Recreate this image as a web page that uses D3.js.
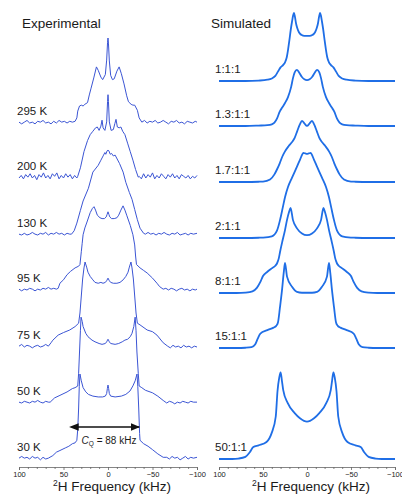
<!DOCTYPE html>
<html>
<head>
<meta charset="utf-8">
<script src="https://cdn.jsdelivr.net/npm/d3@7"></script>
<style>
  body { margin: 0; background: #fff; }
  text { font-family: "Liberation Sans", Arial, sans-serif; }
</style>
</head>
<body>
<svg id="chart" width="402" height="494"></svg>
<script>

// tick labels (kHz) and minor ticks
const freqTicks = [100, 50, 0, -50, -100];
const minorTicks = [90, 80, 70, 60, 40, 30, 20, 10, -10, -20, -30, -40, -60, -70, -80, -90];

const expLabels = ["295 K", "200 K", "130 K", "95 K", "75 K", "50 K", "30 K"];
const simLabels = ["1:1:1", "1.3:1:1", "1.7:1:1", "2:1:1", "8:1:1", "15:1:1", "50:1:1"];

// quadrupolar coupling arrow ends (kHz) and its label value
const cqArrow = [34, -35];
const cqValue = 88;

// experimental spectra: [frequency kHz, intensity (max ~100)]
const exp295 = [[100,1],[97,-1],[94,1],[91,3],[88,0],[85,1],[82,-1],[79,2],[76,1],[73,3],[70,0],[67,1],[64,-1],[61,2],[58,0],[55,3],[52,1],[49,2],[46,0],[43,2],[40,1],[37,2],
  [35,6],[34,14],[32,20],[30,21],[28,20],[26,22],[23,24],[21,33],[19,41],[16,53],[13,66],[11,62],[8,54],[6,51],[3,57],[1.5,74],[0.5,95],[0,100],
  [-0.5,94],[-1.5,73],[-3,56],[-5,51],[-7,52],[-10,61],[-12.5,66],[-15,58],[-18,46],[-21,32],[-23,25],[-26,22],[-28,21],[-30,21],[-33,15],[-35,6],
  [-38,1],[-41,3],[-44,0],[-47,2],[-50,1],[-53,3],[-56,0],[-59,1],[-62,3],[-65,1],[-68,-1],[-71,2],[-74,1],[-77,3],[-80,0],[-83,1],[-86,-1],[-89,2],[-92,1],[-95,0],[-98,2],[-100,1]];

const exp200 = [[100,0],[97.5,3],[95,-1],[92.5,4],[90,1],[87.5,5],[85,0],[82.5,3],[80,-2],[77.5,4],[75,1],[72.5,6],[70,0],[67.5,3],[65,-1],[62.5,5],[60,2],[57.5,6],[55,-1],[52.5,3],[50,0],[47.5,5],[45,1],[42.5,4],[40,-1],[37.5,3],[35,0],
  [34,2],[31,12],[27,31],[23,44],[20,51],[17,55],[14,59],[12,60],[10,56],[8,61],[6.7,68],[5.5,59],[3.5,56],[1.5,66],[0.5,90],[0,98],
  [-0.5,90],[-1.5,66],[-3.5,56],[-6,57],[-7.7,64],[-9,69],[-10.5,60],[-12.5,59],[-14.5,60],[-16.5,55],[-19,51],[-22,41],[-25,31],[-28,21],[-31,10],[-34,1],
  [-35,2],[-37.5,-1],[-40,5],[-42.5,0],[-45,4],[-47.5,1],[-50,6],[-52.5,-1],[-55,3],[-57.5,0],[-60,5],[-62.5,2],[-65,-1],[-67.5,4],[-70,1],[-72.5,5],[-75,0],[-77.5,3],[-80,-1],[-82.5,4],[-85,2],[-87.5,0],[-90,3],[-92.5,-1],[-95,2],[-97.5,0],[-100,3]];

const exp130 = [[100,1],[97,0],[94,2],[91,0],[88,1],[85,3],[82,1],[79,0],[76,2],[73,1],[70,3],[67,0],[64,2],[61,1],[58,3],[55,1],[52,2],[49,0],[46,2],[43,1],
  [41,1],[38,5],[35,14],[31,29],[28,40],[22,55],[17,74],[11,82],[8,88],[5,94],[3.5,97],[2.5,95],[1,99],[0,100],
  [-1,99],[-2.5,95],[-4,96],[-6,93],[-8,94],[-13,84],[-17,74],[-20,62],[-24,50],[-27,42],[-30,30],[-33,18],[-36,8],[-40,2],
  [-42,1],[-45,3],[-48,1],[-51,2],[-54,0],[-57,2],[-60,1],[-63,3],[-66,1],[-69,0],[-72,2],[-75,1],[-78,3],[-81,0],[-84,1],[-87,2],[-90,0],[-93,2],[-96,1],[-100,2]];

const exp95 = [[100,1],[97,-1],[94,1],[91,0],[88,2],[85,1],[82,-1],[79,1],[76,0],[73,2],[70,1],[67,3],[64,1],[61,2],[58,1],
  [56,2],[54,8],[50,12],[46,18],[42,22],[37,26],[33,28],[31.5,30],[30,45],[29,55],[28,65],[26,73],[23.6,80],[20,91],[17.5,96],[15.7,98],[14,94],[12,88],[9,85],[6.7,84],[4,84],[2,86],[1,89],[0,92],
  [-1,89],[-2,86],[-4,84],[-7,84],[-10,85],[-12,88],[-14.5,94],[-16.9,99],[-19,94],[-21,88],[-25,76],[-28,65],[-30,53],[-31,40],[-32,30],[-36,26],[-40,23],[-44,20],[-50,14],[-55,8],[-58,4],
  [-62,1],[-65,2],[-68,0],[-71,2],[-74,1],[-77,-1],[-80,1],[-83,2],[-86,0],[-89,1],[-92,-1],[-95,1],[-98,0],[-100,1]];

const exp75 = [[100,1],[97,3],[94,0],[91,2],[88,1],[85,-1],[82,1],[79,2],[76,0],[73,1],[70,3],[67,1],
  [64,5],[62,8],[56,14],[50,17],[43,20],[37,24],[33,28],[31.5,40],[30,60],[28.5,80],[27,93],[25.8,100],[24,94],[22.5,88],[20,83],[17,79],[14.6,76],[11,75],[8,76],[5.6,75],[3,76],[1.5,78],[0.5,80],[0,81],
  [-0.5,80],[-1.5,78],[-3,76],[-6,75],[-10,75],[-13.5,76],[-17,79],[-20,83],[-22.5,88],[-24,94],[-25.8,100],[-27,93],[-28.5,80],[-30,60],[-31.5,40],[-33,28],[-36,26],[-44,20],[-50,18],[-55,14],[-62,5],
  [-67,1],[-70,-1],[-73,2],[-76,0],[-79,1],[-82,-1],[-85,2],[-88,0],[-91,1],[-94,-1],[-97,1],[-100,0]];

const exp50 = [[100,1],[97,0],[94,2],[91,1],[88,0],[85,2],[82,1],[79,3],[76,1],[73,0],[70,2],[67,1],
  [65,1],[60,6],[54,9],[46,13],[40,17],[37,18],[34,20],[33,35],[32,60],[31,85],[30.3,101],[29,96],[28,90],[25,82],[22.5,78],[18,74],[14.6,72],[10,70],[6.7,69],[3,70],[1.5,72],[0.5,74],[0,75],
  [-0.5,74],[-1.5,72],[-3,70],[-8,69],[-12,70],[-16,72],[-19,74],[-22,75],[-25,78],[-27,82],[-29,90],[-30.5,101],[-31.5,85],[-32.5,60],[-34,35],[-35,20],[-38,18],[-42,15],[-50,12],[-56,8],[-62,3],
  [-66,0],[-69,2],[-72,1],[-75,-1],[-78,1],[-81,0],[-84,2],[-87,1],[-90,0],[-93,2],[-96,1],[-100,1]];

const exp30 = [[100,1],[97,3],[94,1],[91,2],[88,0],[85,3],[82,1],[79,2],[76,-1],[73,2],[70,0],
  [67,1],[62,4],[58,8],[54,10],[48,13],[44,15],[40,18],[37,19],[35,22],[34,35],[33,60],[32.3,85],[31.5,100],[30,92],[28,84],[25,79],[22,76],[17,74],[11,73],[6,73],[3,74],[1.5,77],[0.7,83],[0,87],
  [-0.7,83],[-1.5,77],[-3,74],[-8,73],[-15,74],[-20,76],[-24.7,80],[-28,86],[-30.5,92],[-32.6,100],[-33.5,85],[-34.5,60],[-35.5,30],[-36,22],[-40,18],[-45,15],[-50,11],[-56,6],[-62,2],
  [-66,2],[-69,0],[-72,3],[-75,1],[-78,2],[-81,-1],[-84,1],[-87,3],[-90,0],[-93,2],[-96,1],[-100,2]];

// simulated spectra
const sim111 = [[100,0],[70,0],[55,0.5],[45,1.5],[40,3],[36,6],[33,11],[30,16],[27,19],[25,22],[23,28],[21.5,37],[20,48],[18.5,60],[17,70],[15.8,77],[14.8,80],[13.8,76],[12.5,68],[11,62],[9,57],[6,54],[3,53],[0,53],
  [-3,53],[-6,54],[-9,57],[-11,62],[-12.5,68],[-13.8,76],[-14.8,80],[-15.8,77],[-17,70],[-18.5,60],[-20,48],[-21.5,37],[-23,28],[-25,22],[-27,19],[-30,16],[-33,11],[-36,6],[-40,3],[-45,1.5],[-55,0.5],[-70,0],[-100,0]];

const sim13 = [[100,0],[70,0],[55,0.5],[45,1],[40,2],[37,4],[34,9],[31,17],[28,22],[25,27],[21.6,34],[18,46],[16,56],[14,63],[11.5,66],[9,63],[6,58],[3,55],[0,54],
  [-3,55],[-6,58],[-9,63],[-11.5,66],[-14,63],[-16,56],[-18,46],[-21.6,34],[-25,27],[-28,22],[-31,17],[-34,9],[-37,4],[-40,2],[-45,1],[-55,0.5],[-70,0],[-100,0]];

const sim17 = [[100,0],[70,0],[55,0.3],[50,0.5],[42,3],[37,9],[34,15],[31,22],[28,30],[25,36],[21,42],[17,47],[14,52],[11.4,59],[8,68],[5.7,72],[3,69],[0,66],
  [-3,69],[-5.7,72],[-8,68],[-11.4,59],[-14,52],[-17,47],[-21,42],[-25,36],[-28,30],[-31,22],[-34,15],[-37,9],[-42,3],[-50,0.5],[-55,0.3],[-70,0],[-100,0]];

const sim21 = [[100,0],[70,0],[55,0.3],[50,0.5],[40,2],[34,9],[30.7,21],[27.5,36],[25,48],[21.6,60],[17,71],[11.4,84],[8,92],[4,100],[2,99.5],[0,99],
  [-2,99.5],[-4,100],[-8,92],[-11.4,84],[-17,71],[-21.6,60],[-25,48],[-27.5,36],[-30.7,21],[-34,9],[-40,2],[-50,0.5],[-55,0.3],[-70,0],[-100,0]];

const sim81 = [[100,0],[80,0],[70,0.5],[62,2],[57,6],[53,13],[50,20],[45,25],[40,29],[36,32],[34,35],[32,41],[30.7,48],[28.4,59],[25,74],[22.7,86],[20.5,95],[18.7,100],[16,86],[11.4,76],[5.7,70],[0,68],
  [-5.7,70],[-11.4,76],[-16,86],[-18.7,100],[-20.5,95],[-22.7,86],[-25,74],[-28.4,59],[-30.7,48],[-32,41],[-34,35],[-36,32],[-40,29],[-45,25],[-50,20],[-53,13],[-57,6],[-62,2],[-70,0.5],[-80,0],[-100,0]];

const sim151 = [[100,0],[80,0],[70,0.3],[63,1],[59,4],[56,11],[53,17],[45,21],[38,24],[35,26],[33,30],[30.7,48],[28.4,68],[26.5,88],[25,100],[22.7,84],[17,72],[11.4,66],[5.7,65],[0,65],
  [-5.7,65],[-11.4,66],[-17,72],[-22.7,84],[-25,100],[-26.5,88],[-28.4,68],[-30.7,48],[-33,30],[-35,26],[-38,24],[-45,21],[-53,17],[-56,11],[-59,4],[-63,1],[-70,0.3],[-80,0],[-100,0]];

const sim501 = [[100,0],[85,0],[78,0.5],[70,2.5],[65,8],[61,14],[55,16],[46,20],[40,31],[35.5,50],[33.5,80],[31.5,96],[30,102],[28.5,92],[27,81],[22,66],[14,54],[8,48],[0,44],
  [-8,48],[-14,54],[-22,66],[-27,81],[-28.5,92],[-30,102],[-31.5,96],[-33.5,80],[-35.5,50],[-40,31],[-46,20],[-55,16],[-61,14],[-65,8],[-70,2.5],[-78,0.5],[-85,0],[-100,0]];

const expSeries = [exp295, exp200, exp130, exp95, exp75, exp50, exp30];
const simSeries = [sim111, sim13, sim17, sim21, sim81, sim151, sim501];

// layout
const expBase = [123, 178, 235, 290, 347, 403, 459];
const simBase = [81, 126, 182, 238, 293, 348, 459];
const axisY = 467;
const expColor = "#3b55d4";
const simColor = "#1f6ee6";

const svg = d3.select("#chart");

const xExp = d3.scaleLinear().domain([100, -100]).range([19, 197]);
const xSim = d3.scaleLinear().domain([100, -100]).range([219, 395]);
const yAmp = d3.scaleLinear().domain([0, 100]).range([0, 85]);

function drawPanel(x, series, bases, labels, color, width, curve, labelX) {
  const g = svg.append("g");
  series.forEach((data, i) => {
    const line = d3.line()
      .x(d => x(d[0]))
      .y(d => bases[i] - yAmp(d[1]))
      .curve(curve);
    g.append("path")
      .datum(data)
      .attr("fill", "none")
      .attr("stroke", color)
      .attr("stroke-width", width)
      .attr("stroke-linejoin", "round")
      .attr("d", line);
    g.append("text")
      .attr("x", labelX)
      .attr("y", bases[i] - 8)
      .attr("font-size", 11.5)
      .attr("fill", "#1a1a1a")
      .text(labels[i]);
  });

  // axis
  const ax = svg.append("g").attr("transform", `translate(0,${axisY})`);
  ax.call(d3.axisBottom(x).tickValues(freqTicks).tickSize(3).tickPadding(2).tickFormat(d3.format("d")));
  ax.append("g").call(d3.axisBottom(x).tickValues(minorTicks).tickSize(2).tickFormat(""))
    .select(".domain").remove();
  ax.selectAll("path,line").attr("stroke", "#666").attr("stroke-width", 0.8);
  ax.selectAll("text").attr("font-size", 7.5).attr("fill", "#222")
    .attr("font-family", "Liberation Sans, Arial, sans-serif");

  const title = svg.append("text")
    .attr("x", (x.range()[0] + x.range()[1]) / 2 + 4)
    .attr("y", 491)
    .attr("text-anchor", "middle")
    .attr("font-size", 13.5)
    .attr("fill", "#1a1a1a");
  title.append("tspan").attr("font-size", 8.5).attr("dy", -5).text("2");
  title.append("tspan").attr("dy", 5).text("H Frequency (kHz)");
}

// draw lower traces first so upper ones sit on top like the original
drawPanel(xExp, expSeries, expBase, expLabels, expColor, 1, d3.curveLinear, 17);
drawPanel(xSim, simSeries, simBase, simLabels, simColor, 1.8, d3.curveMonotoneX, 215);

svg.append("text").attr("x", 22).attr("y", 28).attr("font-size", 13.5).attr("fill", "#1a1a1a").text("Experimental");
svg.append("text").attr("x", 211).attr("y", 28).attr("font-size", 13.5).attr("fill", "#1a1a1a").text("Simulated");

// C_Q arrow
const defs = svg.append("defs");
["start", "end"].forEach(k => {
  defs.append("marker")
    .attr("id", "arr-" + k)
    .attr("viewBox", "0 0 10 10")
    .attr("refX", k === "end" ? 9 : 1)
    .attr("refY", 5)
    .attr("markerWidth", 6)
    .attr("markerHeight", 6)
    .attr("orient", "auto-start-reverse")
    .append("path")
    .attr("d", "M0,1 L10,5 L0,9 z")
    .attr("fill", "#111");
});
svg.append("line")
  .attr("x1", xExp(cqArrow[0])).attr("x2", xExp(cqArrow[1]))
  .attr("y1", 427).attr("y2", 427)
  .attr("stroke", "#111").attr("stroke-width", 1.6)
  .attr("marker-start", "url(#arr-start)")
  .attr("marker-end", "url(#arr-end)");

const cq = svg.append("text")
  .attr("x", xExp(0) + 1).attr("y", 444)
  .attr("text-anchor", "middle")
  .attr("font-size", 10)
  .attr("fill", "#1a1a1a");
cq.append("tspan").attr("font-style", "italic").text("C");
cq.append("tspan").attr("font-size", 6.5).attr("dy", 2).text("Q");
cq.append("tspan").attr("dy", -2).text(` = ${cqValue} kHz`);
</script>
</body>
</html>
